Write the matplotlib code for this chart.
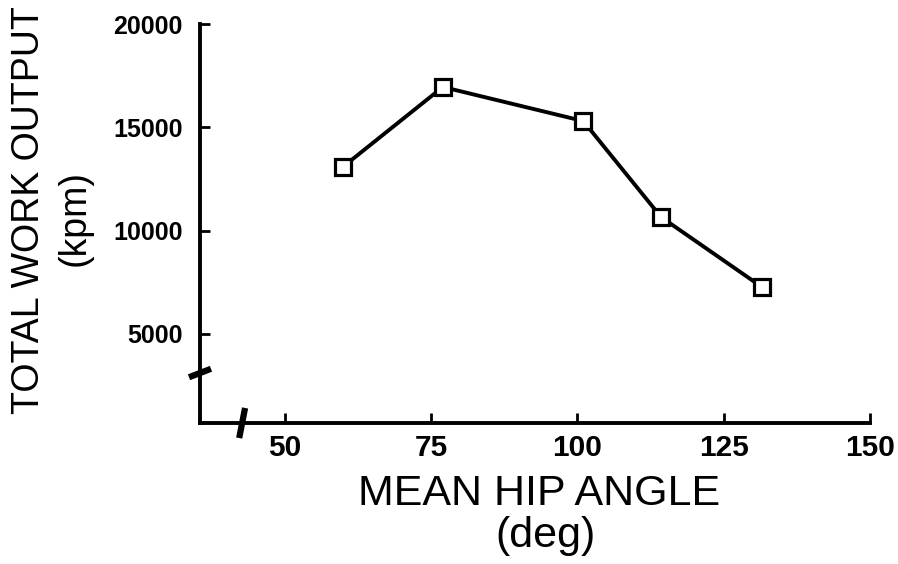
"""
Total work output vs mean hip angle - line chart with open square markers.
"""

import matplotlib
matplotlib.use('Agg')
import matplotlib.pyplot as plt

# =============================================================================
# Data
# =============================================================================

hip_angle = [60, 77, 101, 114.3, 131.6]
work_output = [13100, 16950, 15300, 10650, 7250]

x_ticks = [50, 75, 100, 125, 150]
y_ticks = [5000, 10000, 15000, 20000]

# =============================================================================
# Styling
# =============================================================================

FONT = ['Liberation Sans', 'DejaVu Sans']
LINE_W = 2.8
X_LIMITS = (35.5, 150)
Y_LIMITS = (680, 20000)
X_BREAK = 42.7
Y_BREAK = 3100


def main():
    plt.rcParams['font.family'] = FONT

    fig = plt.figure(figsize=(8.98, 5.64), dpi=100)
    ax = fig.add_axes([200 / 898, 1 - 423 / 564, 670 / 898, 399 / 564])

    ax.plot(hip_angle, work_output, color='black', linewidth=LINE_W,
            marker='s', markersize=11.5, markerfacecolor='white',
            markeredgecolor='black', markeredgewidth=2.3, clip_on=False, zorder=3)

    ax.set_xlim(*X_LIMITS)
    ax.set_ylim(*Y_LIMITS)
    ax.set_xticks(x_ticks)
    ax.set_yticks(y_ticks)
    ax.set_xticklabels([str(v) for v in x_ticks], fontsize=21.5, fontweight='bold')
    ax.set_yticklabels([str(v) for v in y_ticks], fontsize=18, fontweight='bold')
    ax.tick_params(direction='in', length=7, width=2)
    ax.tick_params(axis='x', pad=8)
    ax.tick_params(axis='y', pad=12.5)

    for side in ['top', 'right']:
        ax.spines[side].set_visible(False)
    for side in ['left', 'bottom']:
        ax.spines[side].set_linewidth(2.8)

    # axis break marks
    ax.plot([X_BREAK - 0.4, X_BREAK + 0.4], [-0.03, 0.03], color='black',
            linewidth=4.5, transform=ax.get_xaxis_transform(), clip_on=False)
    ax.plot([-0.012, 0.012], [Y_BREAK - 150, Y_BREAK + 150], color='black',
            linewidth=4.5, transform=ax.get_yaxis_transform(), clip_on=False)

    # axis titles
    fig.text(539 / 898, 1 - 505 / 564, 'MEAN HIP ANGLE', ha='center',
             va='baseline', fontsize=31)
    fig.text(545 / 898, 1 - 547 / 564, '(deg)', ha='center',
             va='baseline', fontsize=31)
    fig.text(29 / 898, 1 - 210 / 564, 'TOTAL WORK OUTPUT', ha='center',
             va='center', rotation=90, fontsize=27)
    fig.text(75 / 898, 1 - 218 / 564, '(kpm)', ha='center',
             va='center', rotation=90, fontsize=27)

    fig.savefig('out.png', dpi=100, facecolor='white')
    plt.close('all')


if __name__ == "__main__":
    main()
